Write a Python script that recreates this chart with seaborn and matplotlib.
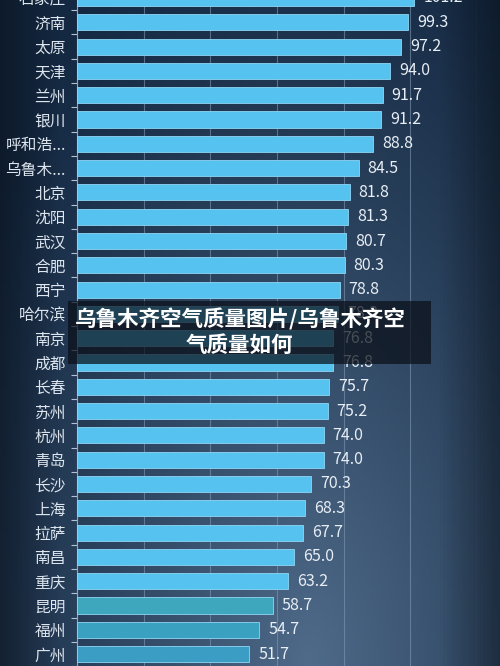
import numpy as np
import pandas as pd
import matplotlib
matplotlib.use("Agg")
import matplotlib.pyplot as plt
from matplotlib.patches import Rectangle
import seaborn as sns

cities = ["石家庄", "济南", "太原", "天津", "兰州", "银川", "呼和浩特", "乌鲁木齐",
          "北京", "沈阳", "武汉", "合肥", "西宁", "哈尔滨", "南京", "成都",
          "长春", "苏州", "杭州", "青岛", "长沙", "上海", "拉萨", "南昌",
          "重庆", "昆明", "福州", "广州"]
values = [101.2, 99.3, 97.2, 94.0, 91.7, 91.2, 88.8, 84.5,
          81.8, 81.3, 80.7, 80.3, 78.8, 78.3, 76.8, 76.8,
          75.7, 75.2, 74.0, 74.0, 70.3, 68.3, 67.7, 65.0,
          63.2, 58.7, 54.7, 51.7]
x_ticks = [0, 20, 40, 60, 80, 100, 120]
title_text = "乌鲁木齐空气质量图片/乌鲁木齐空\n气质量如何"

def short(name):
    return name if len(name) <= 3 else name[:3] + "..."

df = pd.DataFrame({"city": cities, "value": values})

sns.set_theme(style="dark")
plt.rcParams['font.family'] = ['Noto Sans CJK SC', 'DejaVu Sans']

fig = plt.figure(figsize=(5, 6.66), dpi=100)

# background gradient
bg = fig.add_axes([0, 0, 1, 1], zorder=0)
bg.set_axis_off()
H, W = 200, 150
yy, xx = np.mgrid[0:1:H * 1j, 0:1:W * 1j]
d = np.sqrt(((xx - 0.62) / 0.8) ** 2 + ((yy - 1.0) / 1.2) ** 2)
t = np.clip(1 - d, 0, 1) ** 1.2
dark = np.array([0.08, 0.16, 0.26])
light = np.array([0.31, 0.42, 0.54])
img = dark[None, None, :] * (1 - t[..., None]) + light[None, None, :] * t[..., None]
edge = np.clip(1 - np.minimum(xx, 1 - xx) / 0.12, 0, 1)[..., None] * 0.35
img = img * (1 - edge)
bg.imshow(img, extent=[0, 1, 0, 1], aspect="auto", origin="upper")

row_px = 24.3
top_c = -2.0
ax_top = top_c - row_px / 2
ax_bot = top_c + row_px * (len(cities) - 1) + row_px / 2
fig_h = 666.0
ax = fig.add_axes([77 / 500, 1 - ax_bot / fig_h, 400 / 500, (ax_bot - ax_top) / fig_h], zorder=1)
ax.set_facecolor("none")

colors = ["#56c2ef"] * 25 + ["#3ea6bd", "#3aa2c0", "#3b9cc4"]
sns.barplot(data=df, x="value", y="city", hue="city", palette=colors,
            legend=False, width=0.66, ax=ax, saturation=1, zorder=3,
            edgecolor="#8fd6f5", linewidth=0.6)

ax.set_xlim(0, 120)
ax.set_ylim(len(cities) - 0.5, -0.5)
ax.set_xticks(x_ticks)
ax.set_xticklabels([])
ax.grid(axis="x", color="#7f97b3", linewidth=0.8, alpha=0.6, zorder=0)
ax.grid(axis="y", visible=False)
ax.set_xlabel("")
ax.set_ylabel("")
for s in ["top", "right", "bottom"]:
    ax.spines[s].set_visible(False)
ax.spines["left"].set_color("#8fa6bf")
ax.spines["left"].set_linewidth(0.8)

ax.set_yticks(range(len(cities)))
ax.set_yticklabels([short(c) for c in cities], color="#dde5ee", fontsize=11.3)
ax.tick_params(axis="y", which="major", length=0, pad=8)
ax.set_yticks(np.arange(len(cities)) + 0.5, minor=True)
ax.tick_params(axis="y", which="minor", length=4, color="#b0c2d4", width=0.8, left=True)
ax.tick_params(axis="x", length=0)

for i, v in enumerate(values):
    ax.text(v + 2.7, i, f"{v:.1f}", va="center", ha="left", color="#e8eef5",
            fontsize=11.5, zorder=4)

# title overlay box
fig.patches.append(Rectangle((68 / 500, 1 - 364 / fig_h), (431 - 68) / 500, (364 - 301) / fig_h,
                             transform=fig.transFigure, facecolor="#0a0f18", alpha=0.72,
                             zorder=5, edgecolor="none"))
fig.text(240 / 500, 1 - 332 / fig_h, title_text, ha="center", va="center", color="white",
         fontsize=15.5, fontweight="bold", linespacing=1.25, zorder=6)

fig.savefig("out.png", dpi=100)
